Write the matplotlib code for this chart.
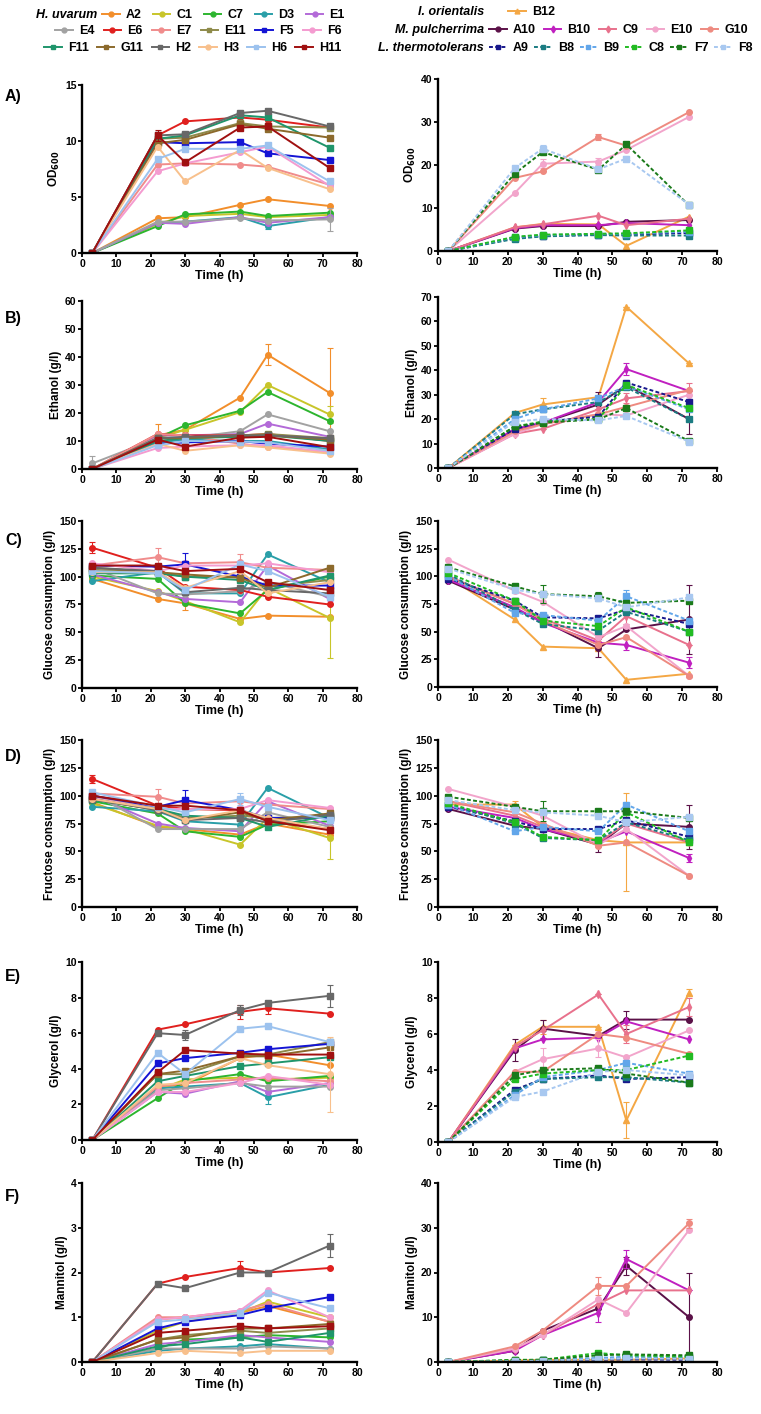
import numpy as np
import matplotlib
matplotlib.use('Agg')
import matplotlib.pyplot as plt
from matplotlib.lines import Line2D

plt.rcParams['font.family'] = ['Liberation Sans', 'DejaVu Sans']
plt.rcParams['font.weight'] = 'bold'

# sampling times (h)
t = [3, 22, 30, 46, 54, 72]

left_strains = ['A2', 'C1', 'C7', 'D3', 'E1', 'E4', 'E6', 'E7', 'E11', 'F5', 'F6',
                'F11', 'G11', 'H2', 'H3', 'H6', 'H11']
right_strains = ['B12', 'A10', 'B10', 'C9', 'E10', 'G10', 'A9', 'B8', 'B9', 'C8', 'F7', 'F8']

# ---- A) OD600 ----
od_left = {
    'A2': [0, 3.1, 3.2, 4.3, 4.8, 4.2], 'C1': [0, 2.6, 3.3, 3.5, 3.2, 3.4],
    'C7': [0, 2.4, 3.45, 3.7, 3.3, 3.6], 'D3': [0, 2.7, 2.8, 3.2, 2.4, 3.2],
    'E1': [0, 2.7, 2.6, 3.2, 2.7, 3.2], 'E4': [0, 2.8, 2.8, 3.1, 2.9, 3.0],
    'E6': [0, 10.5, 11.75, 12.1, 11.9, 11.2], 'E7': [0, 7.9, 8.0, 7.9, 7.7, 6.1],
    'E11': [0, 10.2, 10.3, 11.6, 11.3, 11.2], 'F5': [0, 9.9, 9.8, 9.9, 8.9, 8.3],
    'F6': [0, 7.3, 8.0, 9.0, 9.5, 6.0], 'F11': [0, 10.2, 10.5, 12.3, 12.1, 9.4],
    'G11': [0, 9.8, 10.1, 11.5, 11.1, 10.3], 'H2': [0, 10.5, 10.6, 12.5, 12.7, 11.3],
    'H3': [0, 9.5, 6.4, 9.2, 7.6, 5.7], 'H6': [0, 8.4, 9.3, 9.3, 9.6, 6.4],
    'H11': [0, 10.5, 8.1, 11.2, 11.3, 7.6],
}
od_left_err = {'E4': [0, 0, 0, 0, 0, 1.0], 'H11': [0, 0.5, 0, 0, 0, 0], 'D3': [0, 0, 0, 0, 0.3, 0]}
od_right = {
    'B12': [0, 5.5, 6.3, 6.2, 1.2, 8.0], 'A10': [0, 5.2, 5.8, 5.8, 6.8, 7.2],
    'B10': [0, 5.3, 6.0, 6.0, 6.5, 6.0], 'C9': [0, 5.5, 6.2, 8.2, 6.0, 7.5],
    'E10': [0, 13.5, 20.3, 20.8, 23.5, 31.2], 'G10': [0, 17.0, 18.5, 26.5, 24.5, 32.3],
    'A9': [0, 3.0, 3.5, 3.8, 3.8, 4.2], 'B8': [0, 2.8, 3.4, 3.7, 3.6, 3.6],
    'B9': [0, 3.2, 3.7, 4.0, 4.0, 4.5], 'C8': [0, 3.3, 3.8, 4.0, 4.1, 4.8],
    'F7': [0, 18.0, 23.0, 18.9, 24.8, 10.6], 'F8': [0, 19.3, 23.8, 19.0, 21.5, 10.8],
}
od_right_err = {'G10': [0, 0, 0, 0.8, 0, 0], 'E10': [0, 0, 1.0, 0.8, 0, 0], 'F8': [0, 0, 0.8, 0, 0.6, 0]}

# ---- B) Ethanol ----
eth_left = {
    'A2': [0, 12, 14, 25.5, 40.8, 27.2], 'C1': [0, 11, 14, 20.3, 30, 19.5],
    'C7': [0, 11, 15.6, 20.8, 27.5, 17.1], 'D3': [0, 9.5, 10.5, 10, 10, 7],
    'E1': [0, 12, 12, 12.5, 16.2, 11.5], 'E4': [2, 11, 11, 13.5, 19.5, 13.5],
    'E6': [0, 12.5, 12, 12, 12.5, 10], 'E7': [0, 12.5, 12, 9, 8, 6],
    'E11': [0, 11, 11, 12, 12.5, 11], 'F5': [0, 9, 9.5, 10, 9, 8],
    'F6': [0, 7.5, 8, 8.5, 8.5, 6], 'F11': [0, 10, 11, 11.5, 12, 10],
    'G11': [0, 11, 11, 12, 12, 10.5], 'H2': [0, 11, 11.5, 12, 12, 11],
    'H3': [0, 9, 6.5, 8.5, 7.7, 5.5], 'H6': [0, 8.5, 10, 9.8, 9.5, 6.5],
    'H11': [0, 10.5, 8, 11.2, 11.5, 7.8],
}
eth_left_err = {'A2': [0, 4, 0, 0, 3.7, 16], 'E4': [2.5, 0, 0, 0, 0, 0], 'C1': [0, 0, 1.5, 0, 0, 3]}
eth_right = {
    'B12': [0, 22.5, 26, 29, 66, 42.8], 'A10': [0, 15.5, 18.5, 26, 34, 20],
    'B10': [0, 16, 18.5, 27, 40.5, 31.5], 'C9': [0, 14, 16, 24, 28.5, 31.5],
    'E10': [0, 14, 18, 22, 21.5, 30], 'G10': [0, 15, 18, 22, 25, 32],
    'A9': [0, 16, 19, 21, 35, 27], 'B8': [0, 22, 24, 27, 33, 20],
    'B9': [0, 20, 24, 28.5, 33.5, 24], 'C8': [0, 17, 19, 20, 34, 24.5],
    'F7': [0, 17, 18.5, 20, 24.5, 11], 'F8': [0, 19, 20, 19.5, 21.3, 10.8],
}
eth_right_err = {'B12': [0, 0, 2.5, 0, 0, 0], 'B10': [0, 0, 0, 0, 2.5, 0],
                 'A10': [0, 0, 0, 5, 0, 6], 'C9': [0, 0, 0, 0, 2, 3.5]}

# ---- C) Glucose consumption ----
glu_left = {
    'A2': [98, 80, 76, 62, 65, 64], 'C1': [100, 87, 78, 59, 90, 63],
    'C7': [101, 98, 76, 67, 88, 100], 'D3': [96, 104, 85, 85, 120, 95],
    'E1': [102, 86, 80, 77, 110, 80], 'E4': [108, 85, 84, 87, 95, 82],
    'E6': [126, 108, 91, 88, 82, 75], 'E7': [110, 117.5, 112, 113, 108, 106],
    'E11': [106, 104, 100, 100, 91, 97], 'F5': [110, 109, 111, 100, 92, 92],
    'F6': [112, 105, 110, 110, 112, 104], 'F11': [103, 103, 100, 97, 88, 101],
    'G11': [108, 104, 102, 99, 90, 108], 'H2': [108, 105, 86, 90, 88, 85],
    'H3': [104, 104, 90, 105, 85, 95], 'H6': [105, 103, 88, 111, 105, 82],
    'H11': [110, 110, 105, 107, 95, 88],
}
glu_left_err = {'C1': [0, 0, 0, 0, 0, 36], 'E6': [5, 0, 0, 0, 0, 0], 'E7': [0, 8, 0, 7, 0, 0],
                'F5': [0, 0, 10, 0, 0, 0], 'A2': [0, 0, 6, 0, 0, 0]}
glu_right = {
    'B12': [99, 61, 36.5, 35, 6.5, 12], 'A10': [96, 70, 60, 35, 52, 61],
    'B10': [97, 72, 58, 40, 38, 22], 'C9': [100, 75, 62, 42, 64, 38],
    'E10': [115, 87, 77, 45, 55, 10], 'G10': [99, 75, 60, 38, 45, 10],
    'A9': [98, 78, 63, 62, 70, 57], 'B8': [102, 70, 57, 51, 68, 50],
    'B9': [100, 67, 65, 60, 82, 60], 'C8': [103, 78, 60, 55, 72, 50],
    'F7': [108, 91, 84, 82, 76, 78], 'F8': [107, 88, 84, 80, 72, 81],
}
glu_right_err = {'A10': [0, 0, 0, 8, 0, 31], 'F7': [0, 0, 8, 4, 0, 0], 'B9': [0, 0, 0, 0, 6, 0],
                 'B10': [0, 0, 0, 0, 5, 5], 'C9': [0, 0, 0, 0, 7, 0]}

# ---- D) Fructose consumption ----
fru_left = {
    'A2': [94, 72, 70, 65, 75, 65], 'C1': [93, 73, 70, 56, 80, 62],
    'C7': [95, 84, 68, 63, 74, 77], 'D3': [90, 86, 77, 74, 107, 80],
    'E1': [100, 75, 71, 68, 95, 73], 'E4': [102, 70, 70, 70, 85, 72],
    'E6': [115, 91, 88, 87, 78, 70], 'E7': [102, 99, 93, 95, 92, 88],
    'E11': [99, 88, 80, 82, 80, 81], 'F5': [100, 90, 96, 87, 80, 80],
    'F6': [98, 88, 88, 88, 96, 89], 'F11': [96, 88, 82, 80, 72, 82],
    'G11': [97, 87, 78, 85, 78, 84], 'H2': [97, 87, 78, 80, 76, 83],
    'H3': [97, 88, 78, 87, 80, 70], 'H6': [103, 90, 85, 97, 90, 78],
    'H11': [100, 91, 91, 87, 77, 69],
}
fru_left_err = {'C1': [0, 0, 0, 0, 0, 19], 'E6': [4, 0, 0, 0, 0, 0], 'E7': [0, 7, 0, 0, 0, 0],
                'F5': [0, 0, 9, 0, 0, 0], 'H6': [0, 0, 0, 5, 0, 0]}
fru_right = {
    'B12': [92, 92, 72, 60, 58, 58], 'A10': [88, 73, 70, 56, 75, 72],
    'B10': [90, 80, 70, 58, 68, 44], 'C9': [95, 82, 72, 58, 75, 58],
    'E10': [106, 90, 82, 56, 70, 28], 'G10': [95, 85, 75, 55, 58, 28],
    'A9': [90, 77, 70, 70, 78, 63], 'B8': [92, 75, 62, 60, 76, 60],
    'B9': [92, 68, 72, 68, 92, 68], 'C8': [93, 76, 63, 60, 85, 58],
    'F7': [99, 90, 86, 86, 86, 80], 'F8': [96, 87, 85, 82, 76, 81],
}
fru_right_err = {'B12': [0, 3, 0, 0, 44, 0], 'A10': [0, 0, 0, 7, 0, 20], 'F7': [0, 0, 9, 0, 0, 0],
                 'B10': [0, 0, 0, 0, 0, 4]}

# ---- E) Glycerol ----
gly_left = {
    'A2': [0, 3.0, 3.1, 4.6, 4.8, 4.2], 'C1': [0, 2.8, 3.4, 3.5, 3.4, 3.5],
    'C7': [0, 2.35, 3.3, 3.7, 3.3, 3.6], 'D3': [0, 2.9, 3.0, 3.2, 2.4, 3.1],
    'E1': [0, 2.7, 2.6, 3.3, 2.7, 3.2], 'E4': [0, 2.8, 2.9, 3.2, 3.0, 3.0],
    'E6': [0, 6.2, 6.5, 7.2, 7.4, 7.1], 'E7': [0, 3.0, 3.2, 3.4, 3.5, 3.3],
    'E11': [0, 3.7, 3.7, 4.7, 4.8, 5.5], 'F5': [0, 4.3, 4.6, 4.9, 5.1, 5.4],
    'F6': [0, 2.7, 2.7, 3.2, 3.6, 3.1], 'F11': [0, 3.3, 3.6, 4.15, 4.3, 4.65],
    'G11': [0, 3.7, 3.9, 4.7, 4.7, 5.2], 'H2': [0, 6.0, 5.9, 7.3, 7.7, 8.1],
    'H3': [0, 3.1, 3.2, 4.6, 4.2, 3.7], 'H6': [0, 4.9, 3.7, 6.25, 6.4, 5.5],
    'H11': [0, 3.8, 5.05, 4.85, 4.8, 4.8],
}
gly_left_err = {'H2': [0, 0, 0.3, 0.3, 0, 0.6], 'H3': [0, 0, 0, 0, 0, 2.1],
                'D3': [0, 0, 0, 0, 0.4, 0], 'E6': [0, 0, 0, 0.4, 0.3, 0]}
gly_right = {
    'B12': [0, 5.4, 6.4, 6.4, 1.2, 8.3], 'A10': [0, 5.1, 6.3, 5.9, 6.8, 6.8],
    'B10': [0, 5.2, 5.7, 5.8, 6.7, 5.7], 'C9': [0, 5.3, 6.2, 8.2, 6.0, 7.5],
    'E10': [0, 3.9, 4.6, 5.2, 4.7, 6.2], 'G10': [0, 3.9, 3.9, 6.0, 5.8, 4.9],
    'A9': [0, 2.9, 3.5, 3.7, 3.5, 3.6], 'B8': [0, 2.8, 3.5, 3.6, 3.6, 3.3],
    'B9': [0, 2.6, 3.6, 4.0, 4.4, 3.8], 'C8': [0, 3.5, 3.8, 4.0, 4.0, 4.8],
    'F7': [0, 3.7, 4.0, 4.1, 3.8, 3.3], 'F8': [0, 2.5, 2.8, 3.9, 4.0, 3.7],
}
gly_right_err = {'B12': [0, 0, 0.4, 0, 1.0, 0.2], 'A10': [0, 0.6, 0.5, 0, 0.5, 0],
                 'E10': [0, 0, 0.6, 0.5, 0, 0], 'C9': [0, 0, 0, 0, 0.5, 0.5]}

# ---- F) Mannitol ----
man_left = {
    'A2': [0, 0.95, 1.0, 1.1, 1.25, 0.9], 'C1': [0, 0.7, 0.9, 1.1, 1.35, 1.0],
    'C7': [0, 0.3, 0.5, 0.55, 0.6, 0.55], 'D3': [0, 0.25, 0.3, 0.35, 0.4, 0.3],
    'E1': [0, 0.4, 0.45, 0.6, 0.55, 0.45], 'E4': [0, 0.3, 0.3, 0.3, 0.35, 0.3],
    'E6': [0, 1.75, 1.9, 2.1, 2.0, 2.1], 'E7': [0, 1.0, 1.0, 1.15, 1.3, 0.9],
    'E11': [0, 0.5, 0.6, 0.7, 0.65, 0.75], 'F5': [0, 0.75, 0.9, 1.05, 1.2, 1.45],
    'F6': [0, 0.95, 1.0, 1.15, 1.6, 1.0], 'F11': [0, 0.35, 0.4, 0.55, 0.45, 0.65],
    'G11': [0, 0.5, 0.55, 0.75, 0.75, 0.85], 'H2': [0, 1.75, 1.65, 2.0, 2.0, 2.6],
    'H3': [0, 0.2, 0.25, 0.2, 0.25, 0.25], 'H6': [0, 0.9, 0.95, 1.1, 1.55, 1.2],
    'H11': [0, 0.65, 0.7, 0.8, 0.75, 0.8],
}
man_left_err = {'H2': [0, 0, 0, 0, 0, 0.25], 'E6': [0, 0, 0, 0.15, 0, 0]}
man_right = {
    'B12': [0, 0.3, 0.5, 0.5, 0.5, 0.8], 'A10': [0, 2.5, 7, 12, 21.5, 10],
    'B10': [0, 2.5, 6, 11, 23, 16], 'C9': [0, 3, 6, 13, 16, 16],
    'E10': [0, 3, 6, 14, 11, 29.5], 'G10': [0, 3.5, 7, 17, 17, 31],
    'A9': [0, 0.2, 0.3, 0.5, 0.6, 0.5], 'B8': [0, 0.3, 0.4, 0.8, 1.0, 1.0],
    'B9': [0, 0.3, 0.4, 0.9, 1.2, 1.2], 'C8': [0, 0.5, 0.5, 2.0, 1.5, 1.2],
    'F7': [0, 0.4, 0.5, 1.5, 1.7, 1.5], 'F8': [0, 0.2, 0.3, 0.6, 0.8, 0.7],
}
man_right_err = {'A10': [0, 0, 0, 0, 2, 10], 'G10': [0, 0, 0, 2, 0, 1], 'B10': [0, 0, 0, 2, 2, 0]}

# ---- styles ----
colors = {
    'A2': '#f28e2b', 'C1': '#c8c52a', 'C7': '#2db52f', 'D3': '#2a9fa8', 'E1': '#b36ad8',
    'E4': '#a2a2a2', 'E6': '#e0201e', 'E7': '#f08c8c', 'E11': '#8e8a4a', 'F5': '#1414d4',
    'F6': '#f49bd0', 'F11': '#1f956b', 'G11': '#8c6a2c', 'H2': '#686868', 'H3': '#f8c08c',
    'H6': '#9cc2ee', 'H11': '#a01010',
    'B12': '#f4a744', 'A10': '#5b1148', 'B10': '#c020c0', 'C9': '#e8718c', 'E10': '#f2a5cb',
    'G10': '#ee8a80', 'A9': '#18188c', 'B8': '#1b7c82', 'B9': '#62a6ea', 'C8': '#22bb22',
    'F7': '#1a7a1a', 'F8': '#a8c8f0',
}
markers = {s: 'o' for s in left_strains}
markers.update({s: 's' for s in ['F11', 'G11', 'H2', 'H6', 'H11', 'F5', 'E11']})
markers.update({'B12': '^', 'A10': 'o', 'B10': 'd', 'C9': 'd', 'E10': 'o', 'G10': 'o'})
markers.update({s: 's' for s in ['A9', 'B8', 'B9', 'C8', 'F7', 'F8']})
dashed = ['A9', 'B8', 'B9', 'C8', 'F7', 'F8']


def style(s):
    ls = (0, (2, 1.2)) if s in dashed else '-'
    return dict(color=colors[s], marker=markers[s], linestyle=ls, lw=1.4, ms=4,
                mec=colors[s], mfc=colors[s])


def panel(ax, data, err, strains, yticks, ylabel):
    for s in strains:
        ax.plot(t, data[s], **style(s))
        if s in err:
            ax.errorbar(t, data[s], yerr=err[s], fmt='none', ecolor=colors[s],
                        elinewidth=0.8, capsize=2, capthick=0.8)
    ax.set_xlim(0, 80)
    ax.set_xticks(np.arange(0, 81, 10))
    ax.set_ylim(yticks[0], yticks[-1])
    ax.set_yticks(yticks)
    for sp in ['top', 'right']:
        ax.spines[sp].set_visible(False)
    for sp in ['left', 'bottom']:
        ax.spines[sp].set_linewidth(1.7)
    ax.tick_params(width=1.3, length=3, labelsize=7.5, pad=1)
    for lab in ax.get_xticklabels() + ax.get_yticklabels():
        lab.set_fontweight('bold')
    ax.set_xlabel('Time (h)', fontsize=9, fontweight='bold', labelpad=1)
    ax.set_ylabel(ylabel, fontsize=8.5, fontweight='bold', labelpad=2)


W, H = 761, 1414
fig = plt.figure(figsize=(W / 100, H / 100), dpi=100)

rows = [
    # (left top, left bottom), (right top, right bottom) in px
    ((85, 253), (79, 251)),
    ((301, 469), (297, 468)),
    ((521, 688), (521, 687)),
    ((740, 907), (740, 907)),
    ((962, 1140), (962, 1142)),
    ((1183, 1362), (1183, 1362)),
]
panels = [
    (od_left, od_left_err, [0, 5, 10, 15], od_right, od_right_err, [0, 10, 20, 30, 40],
     r'OD$_{\mathbf{600}}$', r'OD$_{\mathbf{600}}$'),
    (eth_left, eth_left_err, list(range(0, 61, 10)), eth_right, eth_right_err,
     list(range(0, 71, 10)), 'Ethanol (g/l)', 'Ethanol (g/l)'),
    (glu_left, glu_left_err, list(range(0, 151, 25)), glu_right, glu_right_err,
     list(range(0, 151, 25)), 'Glucose consumption (g/l)', 'Glucose consumption (g/l)'),
    (fru_left, fru_left_err, list(range(0, 151, 25)), fru_right, fru_right_err,
     list(range(0, 151, 25)), 'Fructose consumption (g/l)', 'Fructose consumption (g/l)'),
    (gly_left, gly_left_err, list(range(0, 11, 2)), gly_right, gly_right_err,
     list(range(0, 11, 2)), 'Glycerol (g/l)', 'Glycerol (g/l)'),
    (man_left, man_left_err, [0, 1, 2, 3, 4], man_right, man_right_err,
     [0, 10, 20, 30, 40], 'Mannitol (g/l)', 'Mannitol (g/l)'),
]
letters = ['A)', 'B)', 'C)', 'D)', 'E)', 'F)']
letter_y = [97, 318, 540, 757, 977, 1196]

for (lp, rp), p, let, ly in zip(rows, panels, letters, letter_y):
    dl, el, tl, dr, er, tr, yl, yr = p
    axl = fig.add_axes([82 / W, 1 - lp[1] / H, 275 / W, (lp[1] - lp[0]) / H])
    axr = fig.add_axes([438 / W, 1 - rp[1] / H, 279 / W, (rp[1] - rp[0]) / H])
    panel(axl, dl, el, left_strains, tl, yl)
    panel(axr, dr, er, right_strains, tr, yr)
    fig.text(5 / W, 1 - ly / H, let, fontsize=11.5, fontweight='bold', va='center', ha='left')


# ---- legends ----
def handle(s):
    st = style(s)
    st['ms'] = 3.5
    return Line2D([], [], **st)


def row_legend(strains, x, y, spacing):
    fig.legend([handle(s) for s in strains], strains, loc='center left',
               bbox_to_anchor=(x / W, 1 - y / H), ncol=len(strains), frameon=False,
               handlelength=1.4, handletextpad=0.5, columnspacing=spacing,
               borderpad=0, borderaxespad=0, prop={'weight': 'bold', 'size': 9})


fig.text(97 / W, 1 - 15 / H, 'H. uvarum', fontsize=9, fontweight='bold', style='italic',
         ha='right', va='center')
row_legend(['A2', 'C1', 'C7', 'D3', 'E1'], 102, 15, 0.9)
row_legend(['E4', 'E6', 'E7', 'E11', 'F5', 'F6'], 55, 31, 0.75)
row_legend(['F11', 'G11', 'H2', 'H3', 'H6', 'H11'], 44, 48, 0.65)

fig.text(484 / W, 1 - 12 / H, 'I. orientalis', fontsize=9, fontweight='bold', style='italic',
         ha='right', va='center')
fig.text(484 / W, 1 - 30 / H, 'M. pulcherrima', fontsize=9, fontweight='bold', style='italic',
         ha='right', va='center')
fig.text(484 / W, 1 - 48 / H, 'L. thermotolerans', fontsize=9, fontweight='bold', style='italic',
         ha='right', va='center')
row_legend(['B12'], 508, 12, 1.0)
row_legend(['A10', 'B10', 'C9', 'E10', 'G10'], 489, 30, 0.65)
row_legend(['A9', 'B8', 'B9', 'C8', 'F7', 'F8'], 489, 48, 0.45)

fig.savefig('out.png', dpi=100)
